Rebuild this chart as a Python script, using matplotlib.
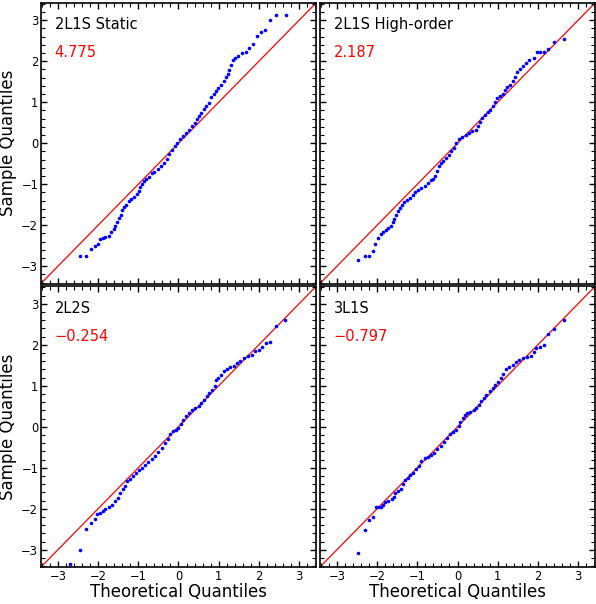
import matplotlib
matplotlib.use('Agg')
from matplotlib import pyplot as plt
from matplotlib.ticker import MultipleLocator

names = ['2L1S Static', '2L1S High-order', '2L2S', '3L1S']
scores = ['4.775', '2.187', '\u22120.254', '\u22120.797']

# theoretical / sample quantiles
static_t = [-2.449, -2.293, -2.186, -2.079, -2.014, -1.956, -1.882, -1.816, -1.734, -1.668,
            -1.611, -1.570, -1.521, -1.471, -1.438, -1.405, -1.356, -1.299, -1.241, -1.175,
            -1.101, -1.036, -0.994, -0.953, -0.912, -0.863, -0.805, -0.731, -0.666, -0.600,
            -0.518, -0.444, -0.370, -0.296, -0.230, -0.156, -0.090, -0.025, 0.041, 0.115,
            0.181, 0.255, 0.329, 0.403, 0.452, 0.510, 0.567, 0.625, 0.690, 0.748,
            0.814, 0.879, 0.937, 0.994, 1.060, 1.126, 1.184, 1.225, 1.266, 1.307,
            1.348, 1.406, 1.488, 1.578, 1.677, 1.759, 1.841, 1.964, 2.063, 2.153,
            2.277, 2.416, 2.663]
static_s = [-2.758, -2.750, -2.573, -2.508, -2.468, -2.330, -2.306, -2.282, -2.266, -2.169,
            -2.088, -2.007, -1.910, -1.830, -1.749, -1.620, -1.563, -1.498, -1.418, -1.361,
            -1.305, -1.240, -1.175, -1.078, -0.998, -0.917, -0.860, -0.812, -0.731, -0.699,
            -0.634, -0.553, -0.473, -0.376, -0.271, -0.166, -0.069, 0.012, 0.093, 0.174,
            0.254, 0.335, 0.416, 0.497, 0.594, 0.658, 0.739, 0.836, 0.901, 0.981,
            1.127, 1.199, 1.264, 1.345, 1.426, 1.506, 1.611, 1.692, 1.789, 1.910,
            2.031, 2.072, 2.128, 2.193, 2.233, 2.314, 2.411, 2.613, 2.702, 2.758,
            3.000, 3.122, 3.122]

high_t = [-2.466, -2.309, -2.211, -2.112, -2.047, -1.973, -1.915, -1.849, -1.775, -1.718,
          -1.652, -1.611, -1.570, -1.529, -1.488, -1.438, -1.389, -1.323, -1.258, -1.192,
          -1.118, -1.060, -0.978, -0.896, -0.814, -0.731, -0.666, -0.616, -0.567, -0.518,
          -0.468, -0.419, -0.353, -0.288, -0.222, -0.156, -0.090, -0.025, 0.041, 0.123,
          0.205, 0.288, 0.370, 0.452, 0.501, 0.551, 0.616, 0.682, 0.748, 0.814,
          0.879, 0.937, 0.994, 1.060, 1.126, 1.184, 1.241, 1.307, 1.373, 1.430,
          1.488, 1.554, 1.636, 1.702, 1.784, 1.899, 1.965, 2.063, 2.145, 2.252,
          2.400, 2.638]
high_s = [-2.847, -2.742, -2.742, -2.629, -2.452, -2.314, -2.201, -2.169, -2.112, -2.064,
          -2.007, -1.927, -1.846, -1.749, -1.660, -1.579, -1.506, -1.442, -1.393, -1.329,
          -1.264, -1.199, -1.143, -1.095, -1.038, -0.981, -0.901, -0.876, -0.796, -0.674,
          -0.553, -0.489, -0.432, -0.351, -0.279, -0.190, -0.109, 0.012, 0.093, 0.158,
          0.198, 0.238, 0.287, 0.335, 0.416, 0.521, 0.618, 0.699, 0.755, 0.820,
          0.901, 0.998, 1.094, 1.143, 1.208, 1.304, 1.369, 1.426, 1.506, 1.611,
          1.749, 1.813, 1.886, 1.951, 2.031, 2.072, 2.217, 2.233, 2.233, 2.298,
          2.468, 2.548]

l2s2_t = [-2.696, -2.449, -2.293, -2.186, -2.079, -2.022, -1.964, -1.882, -1.816, -1.734,
          -1.652, -1.570, -1.504, -1.447, -1.389, -1.340, -1.282, -1.216, -1.142, -1.060,
          -0.994, -0.912, -0.830, -0.748, -0.666, -0.584, -0.501, -0.419, -0.337, -0.271,
          -0.205, -0.140, -0.074, -0.008, 0.058, 0.123, 0.197, 0.263, 0.337, 0.419,
          0.501, 0.567, 0.633, 0.699, 0.764, 0.830, 0.896, 0.937, 0.994, 1.060,
          1.126, 1.208, 1.290, 1.373, 1.455, 1.537, 1.619, 1.718, 1.816, 1.899,
          2.005, 2.071, 2.170, 2.277, 2.416, 2.655]
l2s2_s = [-3.351, -3.011, -2.502, -2.349, -2.251, -2.130, -2.114, -2.066, -2.009, -1.969,
          -1.904, -1.807, -1.726, -1.605, -1.524, -1.443, -1.322, -1.265, -1.200, -1.136,
          -1.063, -0.998, -0.934, -0.861, -0.796, -0.715, -0.618, -0.513, -0.392, -0.295,
          -0.166, -0.109, -0.069, -0.028, 0.077, 0.174, 0.255, 0.335, 0.416, 0.457,
          0.497, 0.578, 0.659, 0.740, 0.821, 0.901, 0.982, 1.144, 1.184, 1.265,
          1.370, 1.403, 1.451, 1.483, 1.564, 1.613, 1.669, 1.726, 1.750, 1.847,
          1.871, 1.952, 2.049, 2.057, 2.454, 2.599]

l3s1_t = [-2.466, -2.309, -2.211, -2.112, -2.038, -1.973, -1.907, -1.849, -1.792, -1.718,
          -1.636, -1.587, -1.546, -1.488, -1.405, -1.356, -1.307, -1.241, -1.175, -1.110,
          -1.036, -0.962, -0.896, -0.814, -0.731, -0.666, -0.584, -0.501, -0.419, -0.337,
          -0.255, -0.189, -0.123, -0.041, 0.025, 0.074, 0.131, 0.181, 0.238, 0.320,
          0.403, 0.468, 0.526, 0.584, 0.649, 0.715, 0.797, 0.879, 0.945, 1.019,
          1.077, 1.142, 1.208, 1.290, 1.373, 1.455, 1.537, 1.619, 1.718, 1.817,
          1.899, 1.964, 2.046, 2.145, 2.252, 2.392, 2.638]
l3s1_s = [-3.084, -2.518, -2.268, -2.195, -1.969, -1.969, -1.961, -1.912, -1.847, -1.799,
          -1.767, -1.702, -1.621, -1.573, -1.524, -1.403, -1.298, -1.241, -1.184, -1.120,
          -1.039, -0.958, -0.837, -0.772, -0.732, -0.699, -0.635, -0.554, -0.473, -0.376,
          -0.271, -0.166, -0.133, -0.069, 0.012, 0.109, 0.214, 0.295, 0.335, 0.368,
          0.400, 0.457, 0.538, 0.618, 0.699, 0.780, 0.861, 0.942, 1.023, 1.103,
          1.184, 1.281, 1.403, 1.451, 1.508, 1.589, 1.629, 1.669, 1.710, 1.726,
          1.815, 1.912, 1.952, 1.993, 2.260, 2.373, 2.599]

panels = [(static_t, static_s), (high_t, high_s), (l2s2_t, l2s2_s), (l3s1_t, l3s1_s)]

W, H = 596., 604.
fig = plt.figure(figsize=(W / 100, H / 100), dpi=100)
lefts = [41, 320]
tops = [3, 286.5]
aw, ah = 275, 280.5
lim = (-3.42, 3.42)

for k in range(4):
    r, c = divmod(k, 2)
    ax = fig.add_axes([lefts[c] / W, 1 - (tops[r] + ah) / H, aw / W, ah / H])
    t, s = panels[k]
    ax.axline((0, 0), slope=1, color='red', lw=0.9, zorder=1)
    ax.plot(t, s, 'o', color='blue', ms=2.6, mew=0, zorder=2)
    ax.set_xlim(lim)
    ax.set_ylim(lim)
    ax.xaxis.set_major_locator(MultipleLocator(1))
    ax.yaxis.set_major_locator(MultipleLocator(1))
    ax.xaxis.set_minor_locator(MultipleLocator(0.2))
    ax.yaxis.set_minor_locator(MultipleLocator(0.2))
    ax.tick_params(axis='both', which='both', direction='in', top=True, right=True,
                   labelsize=8.3)
    ax.tick_params(axis='both', which='major', length=4.5, width=1, pad=2)
    ax.tick_params(axis='both', which='minor', length=2.6, width=0.8)
    for sp in ax.spines.values():
        sp.set_linewidth(1.2)
    if c == 0:
        ax.set_ylabel('Sample Quantiles', fontsize=12)
        ax.yaxis.set_label_coords(-0.086, 0.5)
    else:
        ax.tick_params(labelleft=False)
    if r == 1:
        ax.set_xlabel('Theoretical Quantiles', fontsize=12, labelpad=0)
    else:
        ax.tick_params(labelbottom=False)
    ax.text(0.05, 0.95, names[k], transform=ax.transAxes, fontsize=10.5, va='top')
    ax.text(0.05, 0.85, scores[k], transform=ax.transAxes, fontsize=10.5, va='top', color='red')

fig.savefig('out.png', dpi=100)
